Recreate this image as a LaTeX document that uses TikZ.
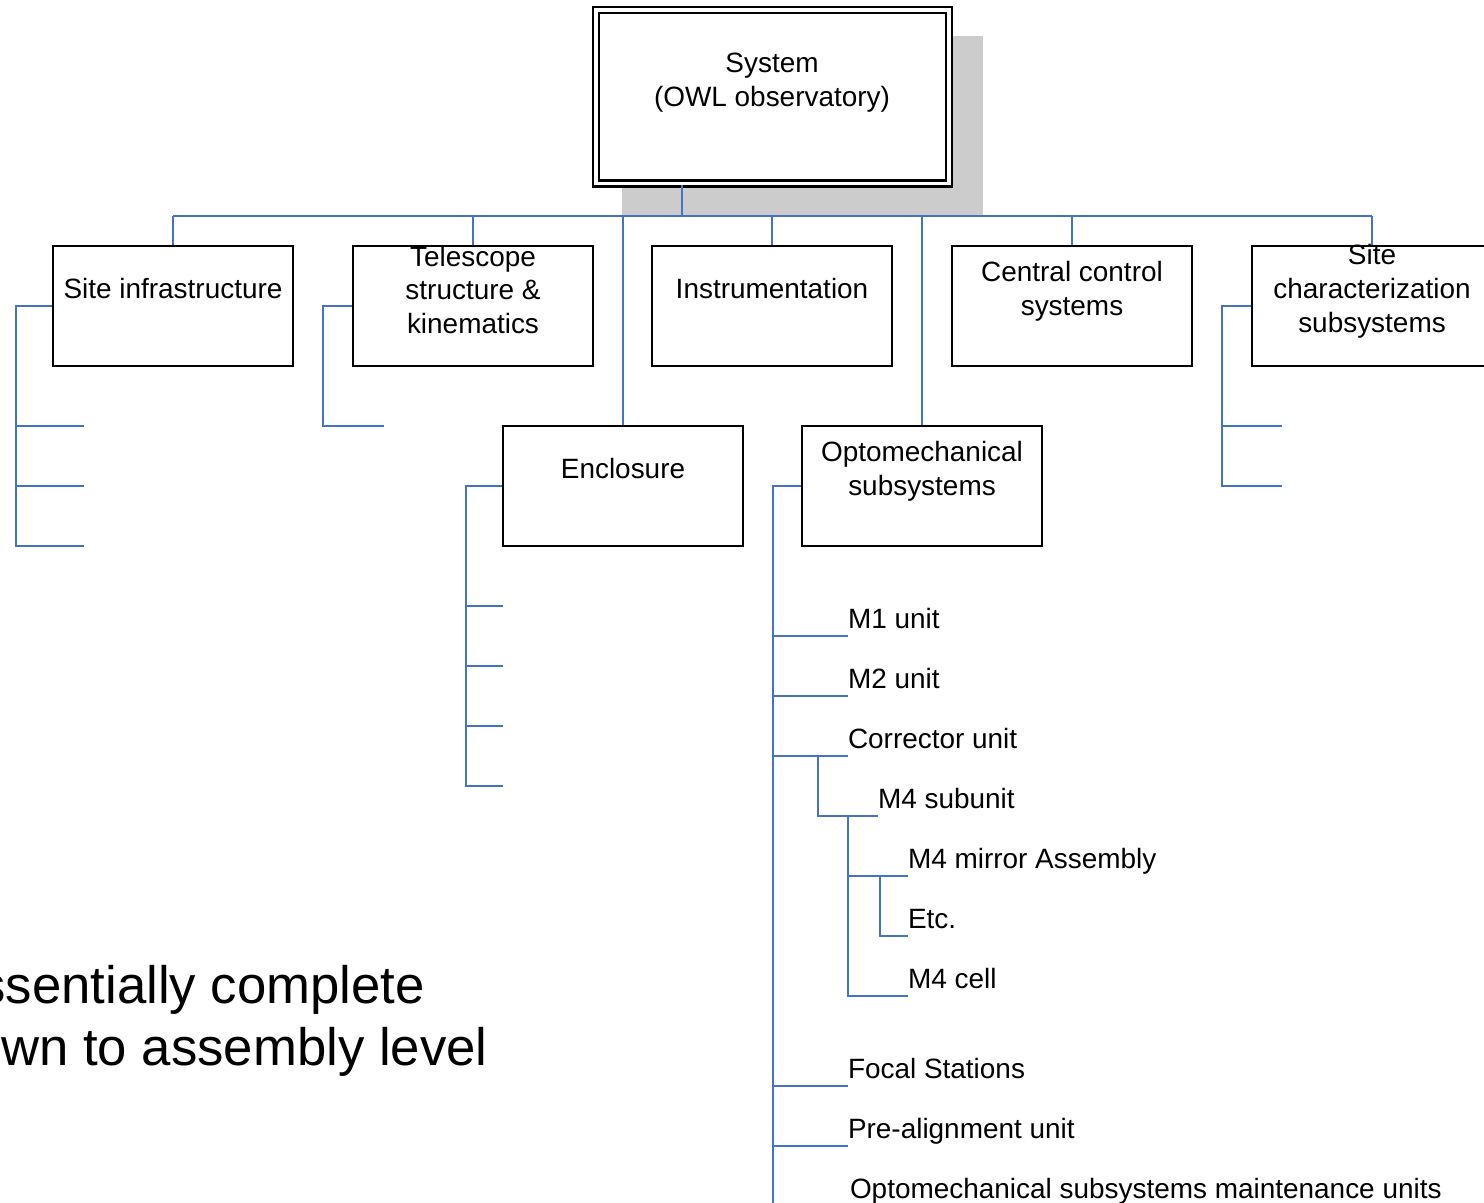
\documentclass[tikz,border=0pt]{standalone}
\usepackage{fontspec}
\setmainfont{Liberation Sans}
\usepackage{tikz}
\tikzset{>=latex}
\usetikzlibrary{calc}
\definecolor{linkblue}{HTML}{4472C4}
\definecolor{shadowgrey}{HTML}{CCCCCC}
\tikzset{
  box/.style={draw=black, line width=1.4pt, fill=white, minimum width=4.8cm, minimum height=2.4cm, inner sep=0pt},
  boxtext/.style={align=center, inner sep=0pt, font=\fontsize{15.9}{19.3}\selectfont},
  leaf/.style={anchor=south west, inner xsep=0pt, inner ysep=0.16cm, outer sep=0pt, text depth=0pt, font=\fontsize{15.9}{19.3}\selectfont},
  note/.style={anchor=base east, inner sep=0pt, font=\fontsize{30}{36}\selectfont},
  link/.style={linkblue, line width=1.4pt},
}

\begin{document}
\begin{tikzpicture}[x=0.02cm, y=-0.02cm]
            \useasboundingbox (0,0) rectangle (1484,1203);
            \fill[shadowgrey] (622,36) rectangle (983,215);
            \node[box, line width=1.3pt, double, double distance=2pt, minimum width=7.06cm, minimum height=3.47cm] (sys) at (772.5,96.75) {};
            \node[boxtext] (sys-t) at (772,83) {System\\(OWL observatory)};
            \node[box] (site) at (173,306) {};
            \node[box] (tel) at (473,306) {};
            \node[box] (instr) at (772,306) {};
            \node[box] (ccs) at (1072,306) {};
            \node[box] (sitechar) at (1372,306) {};
            \node[box] (encl) at (623,486) {};
            \node[box] (opto) at (922,486) {};
            \node[boxtext] (site-t) at (173,289) {Site infrastructure};
            \node[boxtext] (tel-t) at (473,290) {Telescope\\structure \&\\kinematics};
            \node[boxtext] (instr-t) at (772,289) {Instrumentation};
            \node[boxtext] (ccs-t) at (1072,291) {Central control\\systems};
            \node[boxtext] (sitechar-t) at (1372,291) {Site\\characterization\\subsystems};
            \node[boxtext] (encl-t) at (623,469) {Enclosure};
            \node[boxtext] (opto-t) at (922,471.5) {Optomechanical\\subsystems};
            \coordinate (bus) at (682,216);
            \draw[link] (bus |- sys.south) -- (bus);
            \draw[link] (site.north |- bus) -- (sitechar.north |- bus);
            \foreach \n in {site,tel,instr,ccs,sitechar,encl,opto}
              \draw[link] (\n.north |- bus) -- (\n.north);
            \foreach \y [count=\i] in {426,486,546} \coordinate (site-\i) at (84,\y);
            \coordinate (site-sp) at (16,546);
            \draw[link] (site.west) -| (site-sp) -- (site-3);
            \foreach \i in {1,2} \draw[link] (site-sp |- site-\i) -- (site-\i);
            \coordinate (tel-1) at (384,426);
            \coordinate (tel-sp) at (323,426);
            \draw[link] (tel.west) -| (tel-sp) -- (tel-1);
            \foreach \y [count=\i] in {606,666,726,786} \coordinate (encl-\i) at (503,\y);
            \coordinate (encl-sp) at (466,786);
            \draw[link] (encl.west) -| (encl-sp) -- (encl-4);
            \foreach \i in {1,2,3} \draw[link] (encl-sp |- encl-\i) -- (encl-\i);
            \foreach \y [count=\i] in {426,486} \coordinate (sitechar-\i) at (1282,\y);
            \coordinate (sitechar-sp) at (1222,486);
            \draw[link] (sitechar.west) -| (sitechar-sp) -- (sitechar-2);
            \draw[link] (sitechar-sp |- sitechar-1) -- (sitechar-1);
            \node[leaf] (m1) at (848,636) {M1 unit};
            \node[leaf] (m2) at (848,696) {M2 unit};
            \node[leaf] (corr) at (848,756) {Corrector unit};
            \node[leaf] (m4sub) at (878,816) {M4 subunit};
            \node[leaf] (m4mirror) at (908,876) {M4 mirror Assembly};
            \node[leaf] (etc) at (908,936) {Etc.};
            \node[leaf] (m4cell) at (908,996) {M4 cell};
            \node[leaf] (focal) at (848,1086) {Focal Stations};
            \node[leaf] (prealign) at (848,1146) {Pre-alignment unit};
            \node[leaf] (maint) at (850,1206) {Optomechanical subsystems maintenance units};
            \coordinate (opto-sp) at (773,1203);
            \draw[link] (opto.west) -| (opto-sp);
            \foreach \n in {m1,m2,corr,focal,prealign}
              \draw[link] (opto-sp |- \n.south west) -- (\n.south west);
            \coordinate (corr-sp) at (818,816);
            \draw[link] (corr-sp |- corr.south west) -- (corr-sp) -- (m4sub.south west);
            \coordinate (m4sub-sp) at (848,996);
            \draw[link] (m4sub-sp |- m4sub.south west) -- (m4sub-sp) -- (m4cell.south west);
            \draw[link] (m4sub-sp |- m4mirror.south west) -- (m4mirror.south west);
            \coordinate (m4mirror-sp) at (880,936);
            \draw[link] (m4mirror-sp |- m4mirror.south west) -- (m4mirror-sp) -- (etc.south west);
            \node[note] (note-1) at (425,1003) {ssentially complete};
            \node[note] (note-2) at (488,1065) {wn to assembly level};
        \end{tikzpicture}
\end{document}
